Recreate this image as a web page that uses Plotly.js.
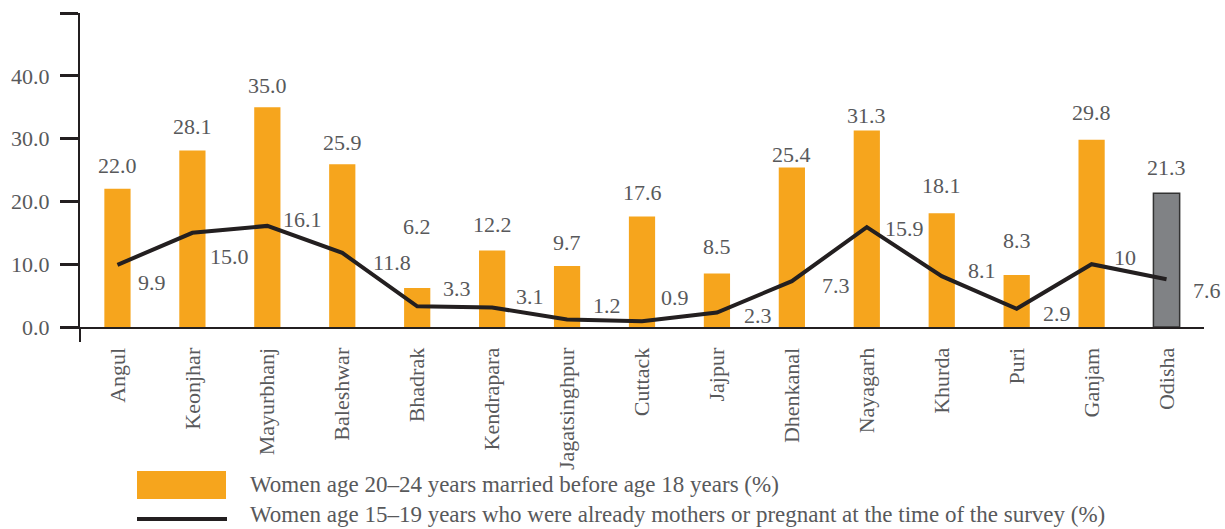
<!DOCTYPE html>
<html>
<head>
<meta charset="utf-8">
<script src="https://cdn.plot.ly/plotly-3.0.1.min.js"></script>
<style>
  html, body { margin: 0; padding: 0; background: #ffffff; }
  #chart { width: 1225px; height: 529px; }
</style>
</head>
<body>
<div id="chart"></div>
<script>
// ---- Data ----
const categories = ['Angul', 'Keonjhar', 'Mayurbhanj', 'Baleshwar', 'Bhadrak', 'Kendrapara',
  'Jagatsinghpur', 'Cuttack', 'Jajpur', 'Dhenkanal', 'Nayagarh', 'Khurda', 'Puri', 'Ganjam', 'Odisha'];
const marriedBefore18 = [22.0, 28.1, 35.0, 25.9, 6.2, 12.2, 9.7, 17.6, 8.5, 25.4, 31.3, 18.1, 8.3, 29.8, 21.3];
const teenMothers = [9.9, 15.0, 16.1, 11.8, 3.3, 3.1, 1.2, 0.9, 2.3, 7.3, 15.9, 8.1, 2.9, 10, 7.6];
const teenMotherLabels = ['9.9', '15.0', '16.1', '11.8', '3.3', '3.1', '1.2', '0.9', '2.3', '7.3', '15.9', '8.1', '2.9', '10', '7.6'];
const yTickVals = [0, 10, 20, 30, 40, 50];
const yTickText = ['0.0', '10.0', '20.0', '30.0', '40.0', ''];
const seriesNames = [
  'Women age 20\u201324 years married before age 18 years (%)',
  'Women age 15\u201319 years who were already mothers or pregnant at the time of the survey (%)'
];

// ---- Label placement (pixels) ----
const barLabelLift = [23, 24, 22, 22, 62, 26, 24, 24, 27, 13, 15, 28, 34, 27, 26];
const lineLabelDx = [35, 37, 35, 50, 40, 38, 40, 33, 41, 44, 38, 40, 40, 33, 40];
const lineLabelDy = [18, 24, -6, 10, -18, -11, -14, -24, 3, 4, 1, -6, 5, -7, 11];

const ORANGE = '#F6A51D';
const GREY = '#808285';
const DARK = '#231F20';
const TEXT = '#58595B';
const FONT = 'Liberation Serif, Times New Roman, serif';

const barColors = categories.map((c, i) => i === categories.length - 1 ? GREY : ORANGE);
const barLineW = categories.map((c, i) => i === categories.length - 1 ? 1.5 : 0);

const traces = [
  {
    type: 'bar', x: categories, y: marriedBefore18, name: seriesNames[0],
    width: 0.35,
    marker: { color: barColors, line: { color: '#333333', width: barLineW } },
    hoverinfo: 'x+y', showlegend: false
  },
  {
    type: 'scatter', mode: 'lines', x: categories, y: teenMothers, name: seriesNames[1],
    line: { color: DARK, width: 4 },
    hoverinfo: 'x+y', showlegend: false
  }
];

const annotations = [];
categories.forEach((c, i) => {
  annotations.push({
    x: c, y: marriedBefore18[i], xref: 'x', yref: 'y',
    text: marriedBefore18[i].toFixed(1), showarrow: false,
    yanchor: 'middle', xanchor: 'center', yshift: barLabelLift[i],
    font: { family: FONT, size: 22, color: TEXT }
  });
  annotations.push({
    x: c, y: teenMothers[i], xref: 'x', yref: 'y',
    text: teenMotherLabels[i], showarrow: false,
    yanchor: 'middle', xanchor: 'center',
    xshift: lineLabelDx[i], yshift: -lineLabelDy[i],
    font: { family: FONT, size: 22, color: TEXT }
  });
});

// Legend (manual)
const L = 80, PW = 1124, B = 327, PH = 314;
const px = v => (v - L) / PW;
const py = v => (B - v) / PH;
annotations.push({
  xref: 'paper', yref: 'paper', x: px(248), y: py(484), xanchor: 'left', yanchor: 'middle',
  text: seriesNames[0], showarrow: false, font: { family: FONT, size: 23, color: TEXT }
});
annotations.push({
  xref: 'paper', yref: 'paper', x: px(248), y: py(514), xanchor: 'left', yanchor: 'middle',
  text: seriesNames[1], showarrow: false, font: { family: FONT, size: 23, color: TEXT }
});

const shapes = [
  { type: 'rect', xref: 'paper', yref: 'paper', x0: px(137), x1: px(226), y0: py(499), y1: py(471),
    fillcolor: ORANGE, line: { width: 0 } },
  { type: 'line', xref: 'paper', yref: 'paper', x0: px(137), x1: px(227), y0: py(519), y1: py(519),
    line: { color: DARK, width: 4 } },
  { type: 'line', xref: 'paper', yref: 'paper', x0: 0, x1: 0, y0: 0, y1: py(342),
    line: { color: DARK, width: 2 } }
];

const layout = {
  width: 1225, height: 529,
  margin: { l: 80, r: 21, t: 13, b: 202, pad: 0 },
  paper_bgcolor: '#ffffff', plot_bgcolor: '#ffffff',
  showlegend: false,
  bargap: 0.65,
  xaxis: {
    type: 'category', range: [-0.5, 14.5],
    showline: true, linecolor: DARK, linewidth: 2,
    ticks: '', showgrid: false, zeroline: false,
    tickangle: -90, ticklabelstandoff: 10,
    tickfont: { family: FONT, size: 22, color: TEXT }
  },
  yaxis: {
    range: [0, 50], tickvals: yTickVals, ticktext: yTickText,
    showline: true, linecolor: DARK, linewidth: 2,
    ticks: 'outside', ticklen: 18, tickwidth: 3, tickcolor: DARK,
    showgrid: false, zeroline: false, ticklabelstandoff: 6,
    tickfont: { family: FONT, size: 22, color: TEXT }
  },
  annotations: annotations,
  shapes: shapes
};

Plotly.newPlot('chart', traces, layout, { displayModeBar: false, staticPlot: true });
</script>
</body>
</html>
